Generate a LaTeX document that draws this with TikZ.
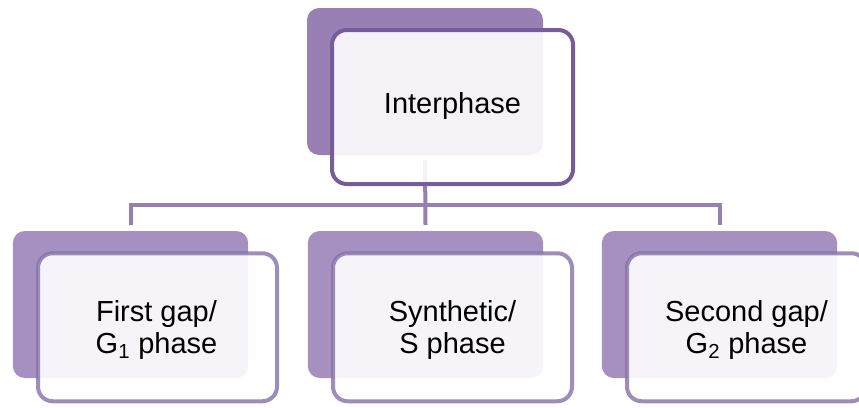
\documentclass[tikz,border=0pt]{standalone}
\usepackage{fontspec}
\setmainfont{Liberation Sans}
\usetikzlibrary{calc}
\definecolor{backtop}{HTML}{9880B4}
\definecolor{fronttop}{HTML}{765D98}
\definecolor{backbot}{HTML}{A590C0}
\definecolor{frontbot}{HTML}{8670A8}
\definecolor{connc}{HTML}{9480B2}
\tikzset{
  backbox/.style={rectangle, inner sep=0pt, outer sep=0pt, rounded corners=9pt,
    minimum width=176.5pt, minimum height=110.25pt},
  frontbox/.style={rectangle, inner sep=0pt, outer sep=0pt, rounded corners=11pt,
    fill=white, fill opacity=0.9, line width=3pt,
    minimum width=179.25pt, minimum height=111pt},
  boxtext/.style={inner sep=0pt, align=center, font=\fontsize{21.75}{24}\selectfont},
  connline/.style={draw=connc, line width=3pt}
}
\begin{document}
\begin{tikzpicture}[x=0.75pt,y=-0.75pt]
\useasboundingbox (0,0) rectangle (859,407);
% back boxes
\node[backbox, fill=backtop, minimum width=177pt] (tb) at (425,81.5) {};
\node[backbox, fill=backbot] (b1) at (130.5,304.5) {};
\node[backbox, fill=backbot] (b2) at (425.5,304.5) {};
\node[backbox, fill=backbot] (b3) at (719.5,304.5) {};
% connectors
\coordinate (j) at ($(tb.south)+(0,49.5)$);
\draw[connline] ($(tb.south)+(0,5)$) -- ($(b2.north)+(0,-6)$);
\draw[connline] ($(b1.north)+(0,-6)$) |- (j) -| ($(b3.north)+(0,-6)$);
% front boxes
\node[frontbox, draw=fronttop, minimum width=180.75pt, minimum height=115.5pt] (tf) at (452.5,107) {};
\node[frontbox, draw=frontbot, draw opacity=0.8] (f1) at (157.5,327.25) {};
\node[frontbox, draw=frontbot, draw opacity=0.8] (f2) at (452.5,327.25) {};
\node[frontbox, draw=frontbot, draw opacity=0.8] (f3) at (746.5,327.25) {};
% texts
\node[boxtext] (t0) at ($(tf.center)+(0,-1)$) {Interphase};
\node[boxtext] (t1) at ($(f1.center)+(-1,3)$) {First gap/\\G\textsubscript{1} phase};
\node[boxtext] (t2) at ($(f2.center)+(0,3)$) {Synthetic/\\S phase};
\node[boxtext] (t3) at ($(f3.center)+(0,3)$) {Second gap/\\G\textsubscript{2} phase};
\end{tikzpicture}
\end{document}
